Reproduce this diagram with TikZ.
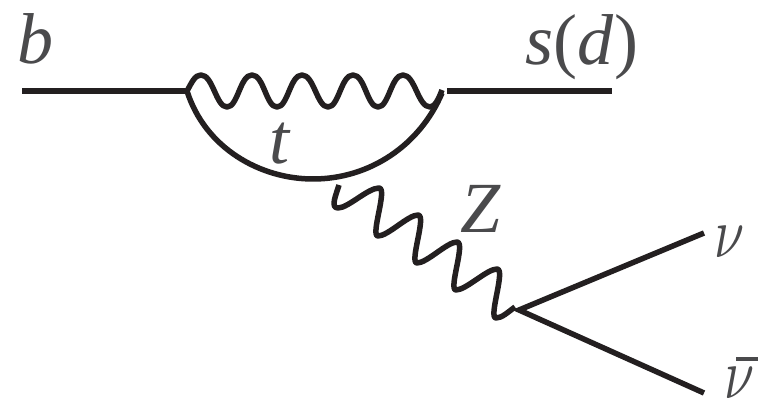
\documentclass[tikz,border=0pt]{standalone}
\usepackage{fontspec}
\setmainfont{Liberation Serif}
\definecolor{ink}{HTML}{231F20}
\definecolor{lbl}{HTML}{4A4A4C}
\begin{document}
\begin{tikzpicture}[x=1pt,y=-1pt,
  fermion/.style={line width=5.5pt,draw=ink},
  wave/.style={line width=5.5pt,draw=ink,line join=round},
  lab/.style={inner sep=0pt,text=lbl,font=\fontsize{72}{72}\selectfont\itshape,anchor=base},
  nulab/.style={inner sep=0pt,text=lbl,anchor=base,font=\normalsize,xscale=5.4,yscale=7.2}]
\useasboundingbox (0,0) rectangle (758,403);
\fill[white] (0,0) rectangle (758,403);
\coordinate (bL) at (22,91);
\coordinate (lv) at (187,91);
\coordinate (rv) at (442,93);
\coordinate (sR) at (612,91);
\coordinate (sL) at (447,91);
\coordinate (bot) at (313,179);
\coordinate (zs) at (339,185);
\coordinate (zend) at (515,307);
\coordinate (nv) at (519,310);
\coordinate (nu) at (704,233);
\coordinate (nb) at (704,393);
\coordinate (barL) at (736,359);
\coordinate (barR) at (758,359);
\draw[fermion] (bL) -- (lv);
\draw[fermion] (sL) -- (sR);
\draw[fermion] (lv) .. controls (205,148) and (260,179) .. (bot)
  .. controls (370,179) and (420,145) .. (rv);
% wave along the top
\draw[wave] (lv) .. controls (192,82) and (195,75) .. (201,75)
  .. controls (213,75) and (216,107) .. (227,107)
  .. controls (238,107) and (240,75) .. (252,75)
  .. controls (264,75) and (266,107) .. (277,107)
  .. controls (288,107) and (290,75) .. (302,75)
  .. controls (314,75) and (317,107) .. (328,107)
  .. controls (339,107) and (341,75) .. (353,75)
  .. controls (365,75) and (367,107) .. (378,107)
  .. controls (389,107) and (391,75) .. (403,75)
  .. controls (415,75) and (418,107) .. (430,107)
  .. controls (435,107) and (439,98) .. (442,90);
% Z wave
\draw[wave] (zs) .. controls (336,195) and (330,208) .. (338,208)
  .. controls (348,208) and (368,188) .. (379,188)
  .. controls (388,188) and (370,236) .. (378,236)
  .. controls (388,236) and (408,215) .. (418,215)
  .. controls (427,215) and (409,263) .. (417,263)
  .. controls (427,263) and (447,242) .. (457,242)
  .. controls (466,242) and (448,290) .. (456,290)
  .. controls (466,290) and (487,269) .. (497,269)
  .. controls (506,269) and (488,318) .. (496,318)
  .. controls (502,318) and (508,312) .. (zend);
\draw[fermion,line join=miter] (nu) -- (nv) -- (nb);
\node[lab] (lb) at (35,64) {b};
\node[lab] (ls) at (582,65) {s\textup{(}d\textup{)}};
\node[lab] (lt) at (279,164) {t};
\node[lab] (lz) at (481,233) {Z};
\node[nulab] (ln) at (730,258) {$\nu$};
\node[nulab] (lnb) at (740,399) {$\nu$};
\draw[lbl,line width=4pt] (barL) -- (barR);
\end{tikzpicture}
\end{document}
